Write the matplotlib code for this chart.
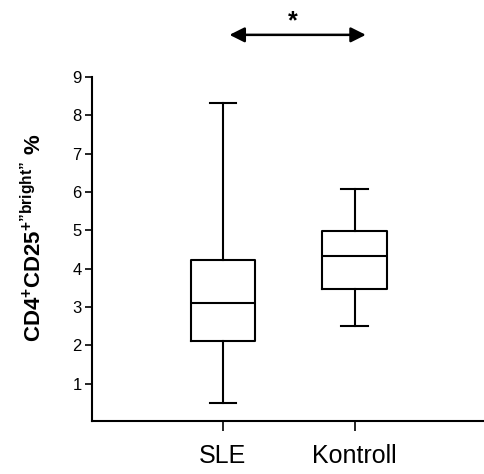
import matplotlib
matplotlib.use("Agg")
import matplotlib.pyplot as plt

categories = ["SLE", "Kontroll"]
whislo = [0.50, 2.51]
q1 = [2.11, 3.46]
med = [3.09, 4.34]
q3 = [4.22, 4.99]
whishi = [8.32, 6.09]
yticks = [1, 2, 3, 4, 5, 6, 7, 8, 9]

plt.rcParams['font.family'] = ['Liberation Sans', 'DejaVu Sans']
plt.rcParams['mathtext.fontset'] = 'custom'
plt.rcParams['mathtext.rm'] = 'Liberation Sans'
plt.rcParams['mathtext.bf'] = 'Liberation Sans:bold'
plt.rcParams['mathtext.it'] = 'Liberation Sans:italic'

fig = plt.figure(figsize=(4.85, 4.74), dpi=100)
ax = fig.add_axes([92.5/485, (474-420.7)/474, 1 - 92.5/485, (420.7-77)/474])

stats = []
for i, c in enumerate(categories):
    stats.append(dict(label=c, whislo=whislo[i], q1=q1[i], med=med[i], q3=q3[i], whishi=whishi[i], fliers=[]))

lw = 1.5
ax.bxp(stats, positions=[1, 2], widths=0.49, capwidths=0.2, showfliers=False,
       boxprops=dict(color='black', linewidth=lw),
       whiskerprops=dict(color='black', linewidth=lw),
       capprops=dict(color='black', linewidth=lw),
       medianprops=dict(color='black', linewidth=lw))

ax.set_xlim(0.01, 2.99)
ax.set_ylim(0.03, 9)
ax.set_yticks(yticks)
ax.set_yticklabels([str(t) for t in yticks])
ax.spines['top'].set_visible(False)
ax.spines['right'].set_visible(False)
ax.spines['left'].set_linewidth(1.5)
ax.spines['bottom'].set_linewidth(1.5)
ax.tick_params(axis='y', length=5.4, width=1.2, pad=2.4, labelsize=12)
ax.tick_params(axis='x', length=7, width=1.2, pad=10, labelsize=18)

q = "\u201d"
label = "$\\mathbf{CD4^{+}CD25^{+" + q + "bright" + q + "}}$ %"
fig.text(34/485, 1 - 237.5/474, label,
         rotation=90, ha='center', va='center', fontsize=16, fontweight='bold')

ax.annotate("", xy=(1.05, 10.1), xytext=(2.085, 10.1), xycoords='data',
            annotation_clip=False,
            arrowprops=dict(arrowstyle='<|-|>,head_length=0.9,head_width=0.45',
                            color='black', linewidth=1.8, shrinkA=0, shrinkB=0))
ax.text(1.534, 10.45, "*", ha='center', va='center', fontsize=18, fontweight='bold',
        clip_on=False)

fig.savefig("out.png", dpi=100)
